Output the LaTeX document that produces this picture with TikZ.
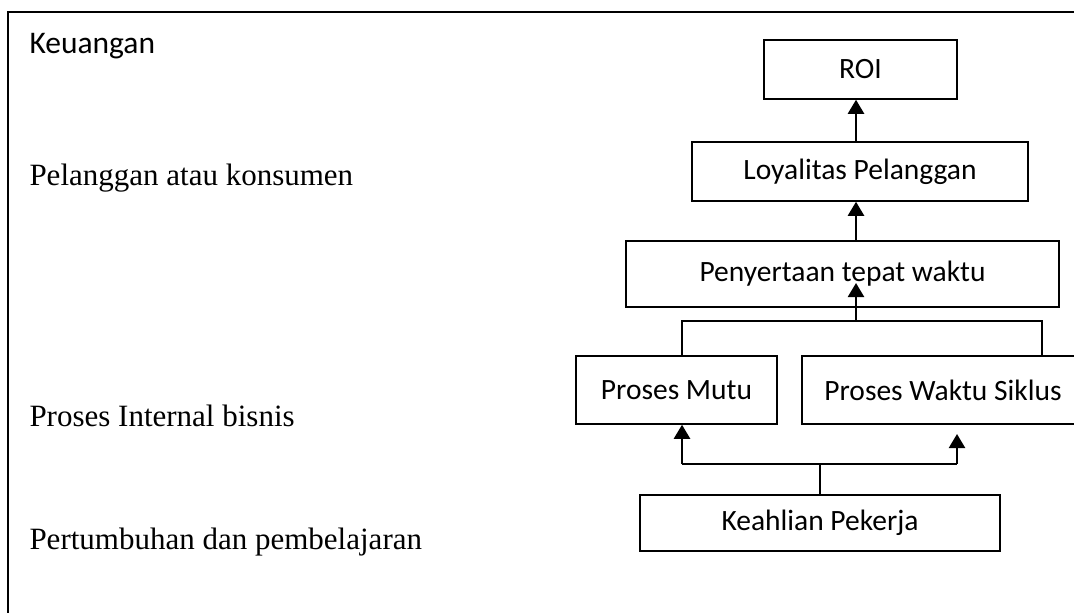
\documentclass[tikz,border=0pt]{standalone}
\usepackage{fontspec}
\setmainfont{Liberation Serif}
\newfontfamily\boxfont{Carlito}
\usetikzlibrary{arrows.meta}

\tikzset{
  frameline/.style={line width=0.8pt},
  stage/.style={draw, line width=0.6pt, inner sep=0pt, font=\boxfont\fontsize{11.8}{13}\selectfont},
  perspective/.style={anchor=base west, inner sep=0pt, font=\fontsize{12.4}{14}\selectfont},
  link/.style={line width=0.9pt, -{Triangle[width=6.4pt,length=5.6pt]}},
  feed/.style={line width=0.9pt},
  branch/.style={line width=0.55pt}
}

\begin{document}
\begin{tikzpicture}[x=0.4pt,y=-0.4pt]
  \useasboundingbox (0,0) rectangle (1074,613);
  \begin{scope}
    \clip (0,0) rectangle (1074,613);

    % outer frame (runs past the right and bottom edges)
    \draw[frameline] (8,12) rectangle (1100,640);

    % perspective labels on the left
    \node[perspective, font=\boxfont\fontsize{12.6}{15}\selectfont] (keu) at (29,53) {Keuangan};
    \node[perspective] (pel) at (29,185) {Pelanggan atau konsumen};
    \node[perspective] (pib) at (29,426) {Proses Internal bisnis};
    \node[perspective] (pdp) at (29,549) {Pertumbuhan dan pembelajaran};

    % stages of the chain
    \node[stage, minimum width=77.2pt, minimum height=23.6pt] (roi) at (860.5,69.5) {ROI};
    \node[stage, minimum width=134.4pt, minimum height=23.6pt] (loy) at (860,171.5) {Loyalitas Pelanggan};
    \node[stage, minimum width=173.2pt, minimum height=26.4pt] (pen) at (842.5,274) {Penyertaan tepat waktu};
    \node[stage, minimum width=80.4pt, minimum height=27.2pt] (mut) at (676.5,390) {Proses Mutu};
    \node[stage, minimum width=112.8pt, minimum height=27.2pt] (wak) at (943,390) {Proses Waktu Siklus};
    \node[stage, minimum width=144pt, minimum height=22.4pt] (kea) at (820,523) {Keahlian Pekerja};

    % junction points of the connectors
    \coordinate (spine) at (856,0);
    \coordinate (upbus) at (856,321);
    \coordinate (upL) at (682,321);
    \coordinate (upR) at (1042,321);
    \coordinate (penTip) at (856,283);
    \coordinate (lowbus) at (820,464);
    \coordinate (lowL) at (682,464);
    \coordinate (lowR) at (957,464);
    \coordinate (wakTip) at (957,434);

    % upward links
    \draw[link] (loy.north -| spine) -- (roi.south -| spine);
    \draw[link] (pen.north -| spine) -- (loy.south -| spine);
    \draw[link] (upbus) -- (penTip);

    % upper branch joining the two processes
    \draw[branch] (mut.north -| upL) -- (upL) -- (upR) -- (wak.north -| upR);

    % lower branch from the workers' skills
    \draw[feed] (kea.north) -- (lowbus);
    \draw[feed] (lowL) -- (lowR);
    \draw[link] (lowL) -- (mut.south -| lowL);
    \draw[link] (lowR) -- (wakTip);
  \end{scope}
\end{tikzpicture}
\end{document}
